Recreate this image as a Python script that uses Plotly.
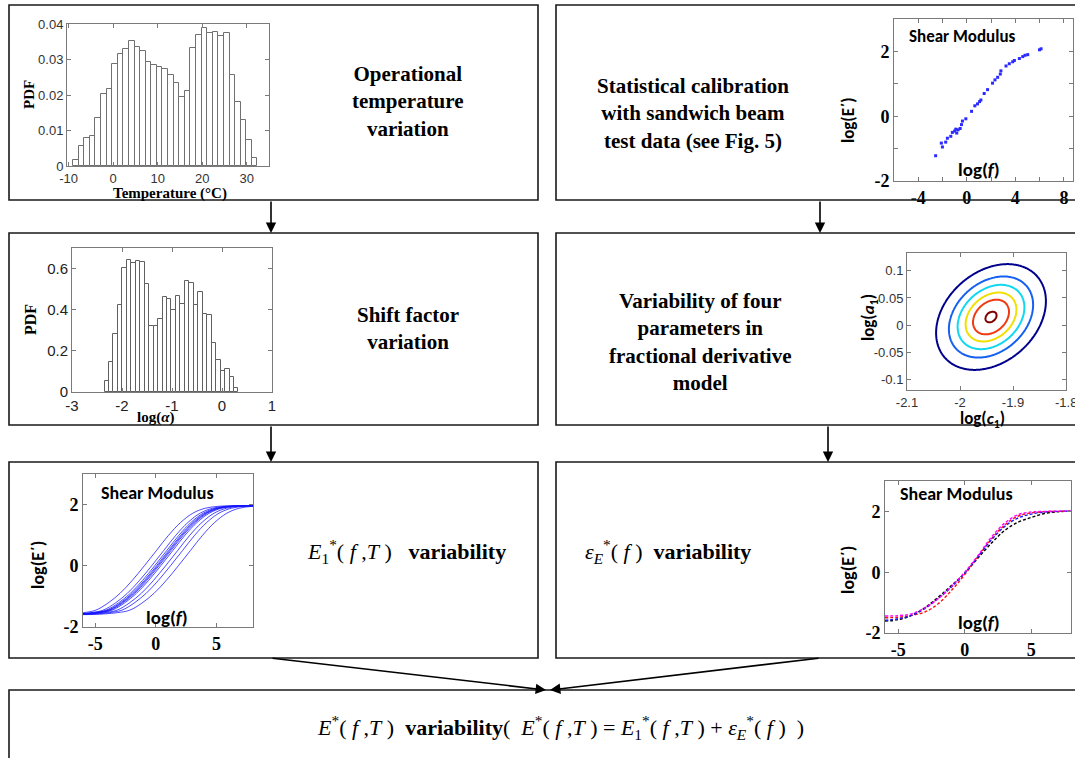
import numpy as np
import plotly.graph_objects as go

W, H = 1075, 758

# ---------------- data ----------------
# Operational temperature histogram
temp_bin_start = -9.0
temp_bin_width = 1.255
temp_pdf = [0.0018, 0.0055, 0.0080, 0.0085, 0.0135, 0.0202, 0.0218, 0.0288, 0.0316,
            0.0331, 0.0351, 0.0335, 0.0324, 0.0293, 0.0285, 0.0280, 0.0272, 0.0255,
            0.0235, 0.0193, 0.0212, 0.0332, 0.0368, 0.0388, 0.0376, 0.0378, 0.0366,
            0.0374, 0.0255, 0.0181, 0.0130, 0.0073, 0.0023]

# Shift factor histogram
alpha_bin_start = -2.35
alpha_bin_width = 0.0893
alpha_pdf = [0.053, 0.145, 0.282, 0.423, 0.605, 0.640, 0.626, 0.637, 0.634, 0.524,
             0.319, 0.319, 0.355, 0.463, 0.452, 0.400, 0.465, 0.427, 0.540, 0.532,
             0.423, 0.484, 0.379, 0.374, 0.239, 0.158, 0.100, 0.110, 0.073, 0.019]

# Sandwich beam test data
test_logf = [-2.57, -2.10, -2.01, -1.74, -1.60, -1.32, -1.19, -1.00, -0.91, -0.72, -0.83,
             -0.55, -0.44, -0.36, -0.08, 0.39, 0.66, 0.88, 1.05, 1.16, 1.43, 1.71, 2.12,
             2.32, 2.54, 2.76, 2.81, 3.23, 3.50, 3.78, 3.92, 4.33, 4.61, 4.80, 5.02, 5.99, 6.12]
test_logE = [-1.22, -0.83, -0.95, -0.80, -0.68, -0.62, -0.50, -0.46, -0.40, -0.42, -0.52,
             -0.38, -0.26, -0.15, -0.08, 0.15, 0.32, 0.38, 0.45, 0.50, 0.70, 0.82, 1.02,
             1.12, 1.20, 1.30, 1.40, 1.55, 1.62, 1.68, 1.72, 1.78, 1.84, 1.88, 1.90, 2.05, 2.08]

# Joint distribution of log(c1), log(a1) (contour levels as Mahalanobis radii)
c1_mean, a1_mean = -1.9415, 0.0148
c1_std, a1_std, c1a1_corr = 0.035, 0.033, 0.30
contour_radii = [2.96, 2.27, 1.80, 1.37, 0.97, 0.30]
contour_colors = ['#00008C', '#1560F0', '#10D8F0', '#F0E000', '#F03A10', '#800000']

# E1*(f,T) master curve (relative to its log(f) shift) and temperature shifts
master_u = [-9, -7, -6, -5, -4, -3, -2, -1, 0, 1, 2, 3, 4, 5, 6, 7, 9]
master_logE = [-1.60, -1.59, -1.57, -1.53, -1.45, -1.22, -0.90, -0.48, 0.0,
               0.50, 1.00, 1.42, 1.72, 1.88, 1.94, 1.96, 1.96]
temp_shifts = [-0.95, -0.35, -0.10, 0.05, 0.15, 0.25, 0.40, 0.80, 1.20, 1.85]

# epsilon_E*(f) sample curves
eps_logf = [-6, -5, -4, -3, -2, -1, 0, 1, 2, 3, 4, 5, 6, 7, 8]
eps_black = [-1.61, -1.56, -1.42, -1.17, -0.82, -0.44, -0.03, 0.47, 0.95, 1.37, 1.64, 1.80, 1.93, 1.99, 2.00]
eps_blue = [-1.58, -1.53, -1.42, -1.20, -0.87, -0.49, -0.03, 0.51, 1.06, 1.50, 1.78, 1.91, 1.98, 2.00, 2.01]
eps_red = [-1.50, -1.48, -1.42, -1.31, -1.04, -0.60, -0.08, 0.51, 1.09, 1.55, 1.84, 1.95, 1.99, 2.00, 2.01]
eps_magenta = [-1.44, -1.43, -1.37, -1.17, -0.87, -0.47, 0.00, 0.55, 1.15, 1.61, 1.89, 1.98, 2.00, 2.01, 2.01]

# ---------------- helpers ----------------
def px(x):
    return x / W

def py(y):
    return 1 - y / H

SERIF = 'Liberation Serif'
SANS = 'Liberation Sans'
CAL = 'Carlito'

fig = go.Figure()
layout = dict(width=W, height=H, margin=dict(l=0, r=0, t=0, b=0, autoexpand=False),
              paper_bgcolor='white', plot_bgcolor='white', showlegend=False,
              template='none', font=dict(color='black', family=SERIF))

def make_axes(i, x0, x1, y0, y1, xr, yr, xt, xtt, yt, ytt, font, lc='#7a7a7a'):
    sx = '' if i == 1 else str(i)
    common = dict(showline=True, mirror='ticks', linecolor=lc, linewidth=1,
                  ticks='inside', ticklen=4, tickcolor=lc, showgrid=False,
                  zeroline=False, fixedrange=True, tickfont=font, automargin=False)
    layout['xaxis' + sx] = dict(domain=[px(x0), px(x1)], range=xr, anchor='y' + sx,
                                tickvals=xt, ticktext=xtt, **common)
    layout['yaxis' + sx] = dict(domain=[py(y1), py(y0)], range=yr, anchor='x' + sx,
                                tickvals=yt, ticktext=ytt, **common)

def bold(lst):
    return ['<b>%s</b>' % t if t else '' for t in lst]

arial = dict(family=SANS, size=13, color='#333333')
timesb = dict(family=SERIF, size=18, color='black')

# Chart 1: temperature histogram
make_axes(1, 67, 269, 24, 166, [-10.35, 35], [0, 0.04],
          [-10, 0, 10, 20, 30], ['-10', '0', '10', '20', '30'],
          [0, 0.01, 0.02, 0.03, 0.04], ['0', '0.01', '0.02', '0.03', '0.04'], arial)
temp_centers = [temp_bin_start + temp_bin_width * (i + 0.5) for i in range(len(temp_pdf))]
fig.add_trace(go.Bar(x=temp_centers, y=temp_pdf, width=temp_bin_width,
                     marker=dict(color='white', line=dict(color='#707070', width=1)),
                     xaxis='x', yaxis='y', hoverinfo='skip'))

# Chart 2: test data scatter
make_axes(2, 894, 1073, 19, 181, [-6, 8.75], [-2, 3],
          [-6, -4, -2, 0, 2, 4, 6, 8], bold(['', '-4', '', '0', '', '4', '', '8']),
          [-2, -1, 0, 1, 2], bold(['-2', '', '0', '', '2']), timesb)
fig.add_trace(go.Scatter(x=test_logf, y=test_logE, mode='markers',
                         marker=dict(color='#2a2aff', size=3, symbol='square'),
                         xaxis='x2', yaxis='y2', hoverinfo='skip'))

# Chart 3: shift-factor histogram
make_axes(3, 72, 272, 248, 392, [-3, 1], [0, 0.7],
          [-3, -2, -1, 0, 1], ['-3', '-2', '-1', '0', '1'],
          [0, 0.2, 0.4, 0.6], ['0', '0.2', '0.4', '0.6'],
          dict(family=SANS, size=15, color='#222222'))
alpha_centers = [alpha_bin_start + alpha_bin_width * (i + 0.5) for i in range(len(alpha_pdf))]
fig.add_trace(go.Bar(x=alpha_centers, y=alpha_pdf, width=alpha_bin_width,
                     marker=dict(color='white', line=dict(color='#606060', width=1)),
                     xaxis='x3', yaxis='y3', hoverinfo='skip'))

# Chart 4: contour of joint parameter distribution
make_axes(4, 907, 1066, 253, 390, [-2.1, -1.8], [-0.12, 0.133],
          [-2.1, -2.0, -1.9, -1.8], ['-2.1', '-2', '-1.9', ''],
          [-0.1, -0.05, 0, 0.05, 0.1], ['-0.1', '-0.05', '0', '0.05', '0.1'], arial)
gx = np.linspace(-2.1, -1.8, 181)
gy = np.linspace(-0.12, 0.133, 181)
GX, GY = np.meshgrid(gx, gy)
zx = (GX - c1_mean) / c1_std
zy = (GY - a1_mean) / a1_std
maha = np.sqrt((zx ** 2 - 2 * c1a1_corr * zx * zy + zy ** 2) / (1 - c1a1_corr ** 2))
for r, col in zip(contour_radii, contour_colors):
    fig.add_trace(go.Contour(x=gx, y=gy, z=maha, showscale=False, hoverinfo='skip',
                             contours=dict(start=r, end=r, size=1, coloring='none'),
                             line=dict(color=col, width=2),
                             xaxis='x4', yaxis='y4'))

# Chart 5: E1* curves
make_axes(5, 83, 253, 474, 627, [-6, 8], [-2, 3],
          [-5, 0, 5], bold(['-5', '0', '5']),
          [-2, 0, 2], bold(['-2', '0', '2']), timesb)
for s in temp_shifts:
    fig.add_trace(go.Scatter(x=[u + s for u in master_u], y=master_logE, mode='lines',
                             line=dict(color='rgba(20,20,255,0.85)', width=0.9, shape='spline'),
                             xaxis='x5', yaxis='y5', hoverinfo='skip'))

# Chart 6: epsilon curves
make_axes(6, 885, 1071, 481, 633, [-6, 8], [-2, 3],
          [-5, 0, 5], bold(['-5', '0', '5']),
          [-2, 0, 2], bold(['-2', '0', '2']), timesb)
for ys, col in [(eps_black, 'black'), (eps_red, '#ff1010'), (eps_blue, '#1a1aff'), (eps_magenta, '#ff00ff')]:
    fig.add_trace(go.Scatter(x=eps_logf, y=ys, mode='lines',
                             line=dict(color=col, width=1.4, dash='3px,2px', shape='spline'),
                             xaxis='x6', yaxis='y6', hoverinfo='skip'))

# ---------------- flowchart boxes ----------------
shapes = []
def box(x0, y0, x1, y1):
    shapes.append(dict(type='rect', xref='paper', yref='paper', x0=px(x0), x1=px(x1),
                       y0=py(y1), y1=py(y0), line=dict(color='#1a1a1a', width=1.6)))

box(9, 5, 538, 200)
box(556, 5, 1090, 200)
box(9, 233, 538, 425)
box(556, 233, 1090, 425)
box(9, 462, 538, 658)
box(556, 462, 1090, 658)
box(9, 690, 1090, 790)

annotations = []
def ann(x, y, text, size, family, angle=0, color='black', xanchor='center'):
    annotations.append(dict(x=px(x), y=py(y), xref='paper', yref='paper', text=text,
                            showarrow=False, textangle=angle, xanchor=xanchor, yanchor='middle',
                            font=dict(size=size, family=family, color=color)))

def arrow(x0, y0, x1, y1):
    annotations.append(dict(x=px(x1), y=py(y1), xref='paper', yref='paper', text='',
                            ax=x0 - x1, ay=y0 - y1, axref='pixel', ayref='pixel',
                            showarrow=True, arrowhead=2, arrowsize=1.3, arrowwidth=1.6,
                            arrowcolor='black'))

arrow(271, 200, 271, 233)
arrow(820, 200, 820, 233)
arrow(271, 425, 271, 462)
arrow(828, 425, 828, 462)
arrow(271, 658, 546, 690)
arrow(820, 658, 550, 690)

# box texts
ann(408, 101, '<b>Operational<br>temperature<br>variation</b>', 21, SERIF)
ann(693, 113, '<b>Statistical calibration<br>with sandwich beam<br>test data (see Fig. 5)</b>', 21, SERIF)
ann(408, 328, '<b>Shift factor<br>variation</b>', 21, SERIF)
ann(700, 342, '<b>Variability of four<br>parameters in<br>fractional derivative<br>model</b>', 21, SERIF)
ann(305, 551, '<i>E</i><sub>1</sub><sup>*</sup>( <i>f</i> ,<i>T</i> )   <b>variability</b>', 22, SERIF, xanchor='left')
ann(583, 551, '<i>ε</i><sub><i>E</i></sub><sup>*</sup>( <i>f</i> )  <b>variability</b>', 22, SERIF, xanchor='left')
ann(560, 727, '<i>E</i><sup>*</sup>( <i>f</i> ,<i>T</i> )  <b>variability</b>(  <i>E</i><sup>*</sup>( <i>f</i> ,<i>T</i> ) = '
              '<i>E</i><sub>1</sub><sup>*</sup>( <i>f</i> ,<i>T</i> ) + <i>ε</i><sub><i>E</i></sub><sup>*</sup>( <i>f</i> )  )',
    22, SERIF)

# chart titles / labels
ann(29, 95, '<b>PDF</b>', 15, SERIF, angle=-90)
ann(170, 193, '<b>Temperature (°C)</b>', 15, SERIF)
ann(848, 120, '<b>log(E΄)</b>', 17, CAL, angle=-90)
ann(962, 36, '<b>Shear Modulus</b>', 17, CAL)
ann(979, 170, '<b>log(<i>f</i>)</b>', 19, CAL)
ann(31, 320, '<b>PDF</b>', 16, SERIF, angle=-90)
ann(155, 417, '<b>log(<i>α</i>)</b>', 15, SERIF)
ann(869, 318, '<b>log(<i>a</i><sub>1</sub>)</b>', 17, CAL, angle=-90)
ann(982, 419, '<b>log(<i>c</i><sub>1</sub>)</b>', 17, CAL)
ann(1066, 402, '-1.8', 13, SANS, color='#333333')
ann(38, 565, '<b>log(E΄)</b>', 18, CAL, angle=-90)
ann(157, 493, '<b>Shear Modulus</b>', 18, CAL)
ann(167, 617, '<b>log(<i>f</i>)</b>', 19, CAL)
ann(848, 570, '<b>log(E΄)</b>', 18, CAL, angle=-90)
ann(956, 494, '<b>Shear Modulus</b>', 18, CAL)
ann(979, 622, '<b>log(<i>f</i>)</b>', 19, CAL)

layout['shapes'] = shapes
layout['annotations'] = annotations
fig.update_layout(**layout)
fig.update_layout(bargap=0)
fig.write_html('out.html')
